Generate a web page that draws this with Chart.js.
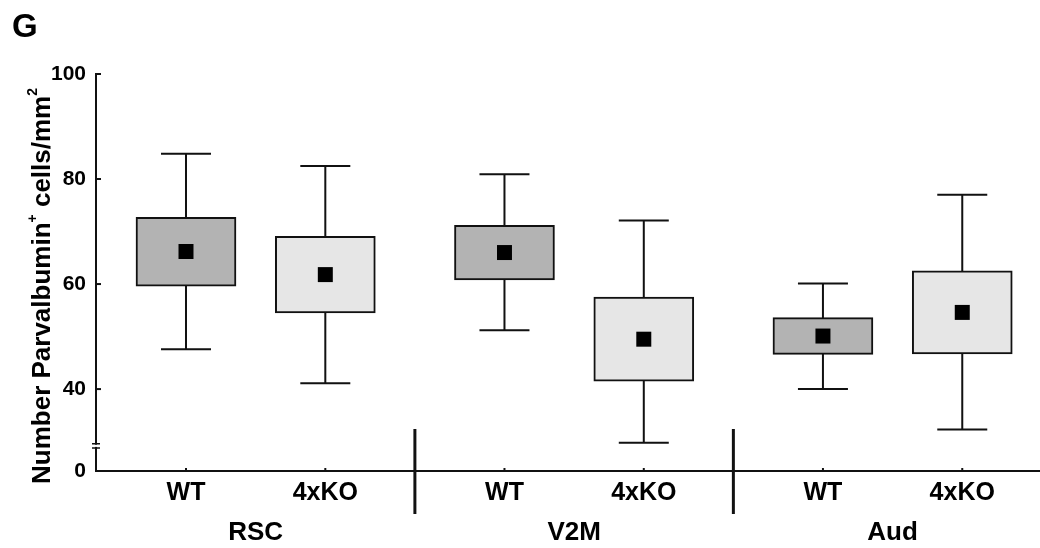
<!DOCTYPE html>
<html>
<head>
<meta charset="utf-8">
<script src="https://cdn.jsdelivr.net/npm/chart.js@4"></script>
<style>
  html, body { margin: 0; padding: 0; background: #fff; }
  #wrap { width: 1040px; height: 548px; }
</style>
</head>
<body>
<div id="wrap"><canvas id="chart"></canvas></div>
<script>
// values (cells/mm2)
var groups = ['RSC', 'V2M', 'Aud'];
var genotypes = ['WT', '4xKO'];
var whiskerHigh = [84.8, 82.5, 80.9, 72.1, 60.1, 77.0];
var boxHigh     = [72.7, 69.1, 71.2, 57.5, 53.6, 62.5];
var means       = [66.2, 61.8, 66.0, 49.5, 50.1, 54.6];
var boxLow      = [59.6, 54.5, 60.8, 41.5, 46.6, 46.7];
var whiskerLow  = [47.6, 41.1, 51.2, 29.8, 40.0, 32.3];
var yTickLabels = ['0', '40', '60', '80', '100'];
var boxColors = ['#b3b3b3', '#e6e6e6'];

// broken axis: the "0" tick sits at the bottom of the axis, below the break
var yFloor = 24.4;
var yTickValues = [yFloor, 40, 60, 80, 100];
var groupStep = 2.286;

function slot(g, i) { return g * groupStep + i; }

var slots = [], cats = [], colors = [];
groups.forEach(function(g, gi) {
    genotypes.forEach(function(t, ti) {
        slots.push(slot(gi, ti));
        cats.push(t);
        colors.push(boxColors[ti]);
    });
});

var boxData = slots.map(function(x, i) { return {x: x, y: [boxLow[i], boxHigh[i]]}; });
var meanData = slots.map(function(x, i) { return {x: x, y: means[i]}; });

var ink = '#111';

var boxPlotExtras = {
    id: 'boxPlotExtras',
    beforeDatasetsDraw: function(chart) {
        var ctx = chart.ctx, xs = chart.scales.x, ys = chart.scales.y;
        ctx.save();
        ctx.strokeStyle = ink;
        ctx.lineWidth = 2;
        slots.forEach(function(v, i) {
            var px = xs.getPixelForValue(v);
            var top = ys.getPixelForValue(whiskerHigh[i]);
            var bot = ys.getPixelForValue(whiskerLow[i]);
            ctx.beginPath();
            ctx.moveTo(px, top); ctx.lineTo(px, bot);
            ctx.moveTo(px - 25, top); ctx.lineTo(px + 25, top);
            ctx.moveTo(px - 25, bot); ctx.lineTo(px + 25, bot);
            ctx.stroke();
        });
        ctx.restore();
    },
    afterDraw: function(chart) {
        var ctx = chart.ctx, xs = chart.scales.x, ys = chart.scales.y;
        var area = chart.chartArea;
        ctx.save();
        ctx.strokeStyle = ink;

        // inner ticks on the y axis
        ctx.lineWidth = 2;
        [40, 60, 80, 100].forEach(function(v) {
            var py = ys.getPixelForValue(v);
            ctx.beginPath();
            ctx.moveTo(area.left, py); ctx.lineTo(area.left + 5, py);
            ctx.stroke();
        });
        // small ticks on the x axis
        slots.forEach(function(v) {
            var px = xs.getPixelForValue(v);
            ctx.beginPath();
            ctx.moveTo(px, area.bottom); ctx.lineTo(px, area.bottom - 3);
            ctx.stroke();
        });

        // axis break
        var b1 = ys.getPixelForValue(29.6), b2 = ys.getPixelForValue(28.8);
        ctx.fillStyle = '#fff';
        ctx.fillRect(area.left - 3, b1 + 1, 6, b2 - b1 - 2);
        ctx.lineWidth = 1.5;
        ctx.beginPath();
        ctx.moveTo(area.left - 4, b1); ctx.lineTo(area.left + 4, b1);
        ctx.moveTo(area.left - 4, b2); ctx.lineTo(area.left + 4, b2);
        ctx.stroke();

        // group separators
        ctx.lineWidth = 3;
        for (var g = 0; g < groups.length - 1; g++) {
            var sx = xs.getPixelForValue(slot(g, 1) + (groupStep - 1) / 2);
            ctx.beginPath();
            ctx.moveTo(sx, ys.getPixelForValue(32.4));
            ctx.lineTo(sx, area.bottom + 43);
            ctx.stroke();
        }

        // panel letter
        ctx.fillStyle = '#000';
        ctx.textAlign = 'left';
        ctx.textBaseline = 'alphabetic';
        ctx.font = 'bold 33px "Liberation Sans"';
        ctx.fillText('G', 12, 37);

        // y title with superscripts
        var parts = [
            ['Number Parvalbumin', 26, 0],
            ['+', 14, -13],
            [' cells/mm', 26, 0],
            ['2', 14, -13]
        ];
        var total = 0;
        parts.forEach(function(p) {
            ctx.font = 'bold ' + p[1] + 'px "Liberation Sans"';
            p.push(ctx.measureText(p[0]).width);
            total += p[3];
        });
        ctx.translate(50, 286);
        ctx.rotate(-Math.PI / 2);
        var cx = -total / 2;
        parts.forEach(function(p) {
            ctx.font = 'bold ' + p[1] + 'px "Liberation Sans"';
            ctx.fillText(p[0], cx, p[2]);
            cx += p[3];
        });
        ctx.restore();
    }
};

Chart.defaults.font.family = '"Liberation Sans", Arial, sans-serif';
Chart.defaults.color = '#000';

function noSidePadding(scale, h) {
    scale.height = h;
    scale.paddingLeft = 0;
    scale.paddingRight = 0;
}

var config = {
    type: 'bar',
    data: {
        datasets: [{
            type: 'scatter',
            data: meanData,
            pointStyle: 'rect',
            pointRadius: 10.6,
            pointHoverRadius: 10.6,
            backgroundColor: '#000',
            borderWidth: 0,
            order: 0
        }, {
            type: 'bar',
            data: boxData,
            backgroundColor: colors,
            borderColor: ink,
            borderWidth: 2,
            borderSkipped: false,
            barThickness: 100,
            order: 1
        }]
    },
    options: {
        responsive: true,
        maintainAspectRatio: false,
        animation: false,
        layout: { autoPadding: false, padding: { top: 74, right: 0, bottom: 0, left: 0 } },
        plugins: {
            legend: { display: false },
            tooltip: { enabled: false }
        },
        scales: {
            x: {
                type: 'linear',
                position: 'bottom',
                offset: false,
                weight: 0,
                min: -0.646,
                max: 6.13,
                grid: { display: false, drawTicks: false },
                border: { display: true, color: ink, width: 2 },
                afterBuildTicks: function(scale) {
                    scale.ticks = slots.map(function(v) { return {value: v}; });
                },
                afterFit: function(scale) { noSidePadding(scale, 40); },
                ticks: {
                    autoSkip: false,
                    maxRotation: 0,
                    padding: 7,
                    font: { size: 25, weight: 'bold' },
                    callback: function(v, i) { return cats[i]; }
                }
            },
            xg: {
                type: 'linear',
                position: 'bottom',
                offset: false,
                weight: 1,
                min: -0.646,
                max: 6.13,
                grid: { display: false, drawTicks: false },
                border: { display: false },
                afterBuildTicks: function(scale) {
                    scale.ticks = groups.map(function(g, gi) { return {value: slot(gi, 0.5)}; });
                },
                afterFit: function(scale) { noSidePadding(scale, 37); },
                ticks: {
                    autoSkip: false,
                    maxRotation: 0,
                    padding: 6,
                    font: { size: 26, weight: 'bold' },
                    callback: function(v, i) { return groups[i]; }
                }
            },
            y: {
                type: 'linear',
                min: yFloor,
                max: 100,
                grid: { display: false, drawTicks: false },
                border: { display: true, color: ink, width: 2 },
                afterBuildTicks: function(scale) {
                    scale.ticks = yTickValues.map(function(v) { return {value: v}; });
                },
                afterFit: function(scale) { scale.width = 96; },
                ticks: {
                    padding: 10,
                    font: { size: 21, weight: 'bold' },
                    callback: function(v, i) { return yTickLabels[i]; }
                }
            }
        }
    },
    plugins: [boxPlotExtras]
};

var ctx = document.getElementById('chart');
window.myChart = new Chart(ctx, config);
</script>
</body>
</html>
